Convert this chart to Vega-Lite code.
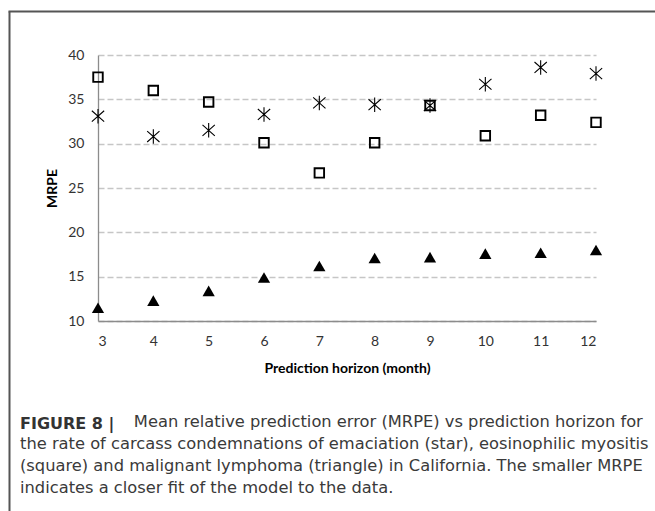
{
  "$schema": "https://vega.github.io/schema/vega-lite/v6.json",
  "width": 498,
  "height": 266,
  "autosize": {"type": "none"},
  "padding": {"left": 98, "top": 55, "right": 59, "bottom": 190},
  "background": "white",
  "config": {"view": {"stroke": null}, "font": "Lato"},
  "data": {
    "values": [
      {"h": 3, "series": "emaciation", "mrpe": 33.1},
      {"h": 4, "series": "emaciation", "mrpe": 30.8},
      {"h": 5, "series": "emaciation", "mrpe": 31.5},
      {"h": 6, "series": "emaciation", "mrpe": 33.3},
      {"h": 7, "series": "emaciation", "mrpe": 34.6},
      {"h": 8, "series": "emaciation", "mrpe": 34.4},
      {"h": 9, "series": "emaciation", "mrpe": 34.3},
      {"h": 10, "series": "emaciation", "mrpe": 36.7},
      {"h": 11, "series": "emaciation", "mrpe": 38.6},
      {"h": 12, "series": "emaciation", "mrpe": 37.9},
      {"h": 3, "series": "myositis", "mrpe": 37.5},
      {"h": 4, "series": "myositis", "mrpe": 36.0},
      {"h": 5, "series": "myositis", "mrpe": 34.7},
      {"h": 6, "series": "myositis", "mrpe": 30.1},
      {"h": 7, "series": "myositis", "mrpe": 26.7},
      {"h": 8, "series": "myositis", "mrpe": 30.1},
      {"h": 9, "series": "myositis", "mrpe": 34.3},
      {"h": 10, "series": "myositis", "mrpe": 30.9},
      {"h": 11, "series": "myositis", "mrpe": 33.2},
      {"h": 12, "series": "myositis", "mrpe": 32.4},
      {"h": 3, "series": "lymphoma", "mrpe": 11.5},
      {"h": 4, "series": "lymphoma", "mrpe": 12.3},
      {"h": 5, "series": "lymphoma", "mrpe": 13.4},
      {"h": 6, "series": "lymphoma", "mrpe": 14.9},
      {"h": 7, "series": "lymphoma", "mrpe": 16.2},
      {"h": 8, "series": "lymphoma", "mrpe": 17.1},
      {"h": 9, "series": "lymphoma", "mrpe": 17.2},
      {"h": 10, "series": "lymphoma", "mrpe": 17.6},
      {"h": 11, "series": "lymphoma", "mrpe": 17.7},
      {"h": 12, "series": "lymphoma", "mrpe": 18.0}
    ]
  },
  "title": {
    "text": "FIGURE 8 |",
    "subtitle": [
      "\u200b\u00a0\u00a0\u00a0\u00a0\u00a0\u00a0\u00a0\u00a0\u00a0\u00a0\u00a0\u00a0\u00a0\u00a0\u00a0\u00a0\u00a0\u00a0\u00a0\u00a0\u00a0\u00a0Mean relative prediction error (MRPE) vs prediction horizon for",
      "the rate of carcass condemnations of emaciation (star), eosinophilic myositis",
      "(square) and malignant lymphoma (triangle) in California. The smaller MRPE",
      "indicates a closer fit of the model to the data."
    ],
    "orient": "bottom",
    "anchor": "start",
    "frame": "group",
    "dx": -78,
    "offset": -139,
    "font": "DejaVu Sans",
    "fontSize": 16,
    "fontWeight": "bold",
    "color": "#333333",
    "subtitleFont": "DejaVu Sans",
    "subtitleFontSize": 16.3,
    "subtitleColor": "#3a3a3a",
    "subtitleLineHeight": 22,
    "subtitlePadding": -18
  },
  "layer": [
    {
      "mark": {"type": "point", "opacity": 0},
      "encoding": {
        "x": {
          "field": "h", "type": "quantitative",
          "scale": {"domain": [0, 1], "range": [-90, 620]},
          "axis": {"orient": "top", "offset": 44, "labels": false, "ticks": false, "grid": false, "title": null, "domainColor": "#555555", "domainWidth": 2}
        },
        "y": {
          "field": "mrpe", "type": "quantitative",
          "scale": {"domain": [0, 1], "range": [456, -44]},
          "axis": {"orient": "left", "offset": 89, "labels": false, "ticks": false, "grid": false, "title": null, "domainColor": "#555555", "domainWidth": 2}
        }
      }
    },
    {
      "encoding": {
        "x": {
          "field": "h", "type": "quantitative",
          "scale": {"domain": [3, 12], "nice": false, "zero": false},
          "axis": {
            "orient": "bottom",
            "values": [3, 4, 5, 6, 7, 8, 9, 10, 11, 12],
            "grid": false, "ticks": false, "labelPadding": 13,
            "labelFont": "Lato", "labelFontSize": 14, "labelColor": "#333333",
            "domainColor": "#8c8c8c", "domainWidth": 1.3,
            "title": "Prediction horizon (month)", "titleFont": "Lato", "titleFontSize": 14, "titleFontWeight": "bold", "titleColor": "#000000", "titlePadding": 13
          }
        },
        "y": {
          "field": "mrpe", "type": "quantitative",
          "scale": {"domain": [10, 40], "nice": false, "zero": false},
          "axis": {
            "orient": "left",
            "values": [10, 15, 20, 25, 30, 35, 40],
            "grid": true, "gridDash": [6, 3], "gridColor": "#c6c6c6", "gridWidth": 1.3,
            "ticks": false, "labelPadding": 14,
            "labelFont": "Lato", "labelFontSize": 14, "labelColor": "#333333",
            "domainColor": "#8c8c8c", "domainWidth": 1.3,
            "title": "MRPE", "titleFont": "Lato", "titleFontSize": 14, "titleFontWeight": "bold", "titleColor": "#000000", "titlePadding": 8
          }
        }
      },
      "layer": [
        {
          "transform": [{"filter": "datum.series === 'emaciation'"}],
          "mark": {"type": "point", "shape": "M-0.85,-0.75L0.85,0.75M-0.85,0.75L0.85,-0.75M0,-1L0,1", "size": 210, "filled": false, "stroke": "#000000", "strokeWidth": 1.1, "opacity": 1}
        },
        {
          "transform": [{"filter": "datum.series === 'myositis'"}],
          "mark": {"type": "point", "shape": "square", "size": 90, "filled": false, "stroke": "#000000", "strokeWidth": 1.9, "opacity": 1}
        },
        {
          "transform": [{"filter": "datum.series === 'lymphoma'"}],
          "mark": {"type": "point", "shape": "triangle-up", "size": 150, "filled": true, "fill": "#000000", "opacity": 1}
        }
      ]
    }
  ],
  "resolve": {"scale": {"x": "independent", "y": "independent"}}
}
